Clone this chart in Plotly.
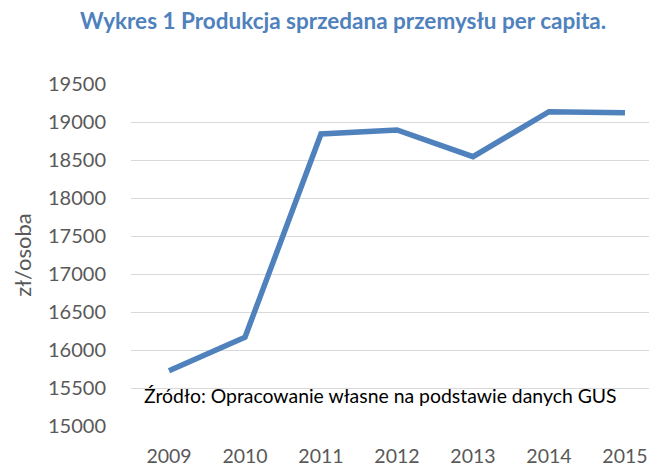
import plotly.graph_objects as go

years = ["2009", "2010", "2011", "2012", "2013", "2014", "2015"]
values = [15727, 16167, 18842, 18895, 18544, 19136, 19122]
y_ticks = [15000, 15500, 16000, 16500, 17000, 17500, 18000, 18500, 19000, 19500]

title_text = "Wykres 1 Produkcja sprzedana przemysłu per capita."
source_text = "Źródło: Opracowanie własne na podstawie danych GUS"
y_title = "zł/osoba"

FONT = "Lato, 'Open Sans', sans-serif"
BLUE = "#4F81BD"
GRAY = "#595959"

fig = go.Figure()
fig.add_trace(go.Scatter(
    x=years, y=values, mode="lines",
    line=dict(color=BLUE, width=5.5),
    showlegend=False, hoverinfo="x+y",
))

fig.update_layout(
    width=649, height=466,
    margin=dict(l=131, r=0, t=84, b=40, autoexpand=False),
    paper_bgcolor="white", plot_bgcolor="white",
    font=dict(family=FONT, color=GRAY),
    title=dict(
        text=title_text, x=343 / 649, xanchor="center",
        y=1 - 13 / 466, yref="container", yanchor="top",
        font=dict(family=FONT, size=22.5, color=BLUE, weight="bold"),
        automargin=False,
    ),
)

fig.update_xaxes(
    type="category", range=[-0.5, 6.316], automargin=False,
    showgrid=False, showline=False, zeroline=False,
    ticks="", ticklabelstandoff=16,
    tickfont=dict(family=FONT, size=19.5, color=GRAY),
)
fig.update_yaxes(
    range=[15000, 19500], tickvals=y_ticks, automargin=False,
    ticktext=[str(v) for v in y_ticks],
    showgrid=True, gridcolor="#D9D9D9", gridwidth=1.3,
    showline=False, zeroline=False,
    ticks="", ticklabelstandoff=24,
    tickfont=dict(family=FONT, size=20, color=GRAY),
    title=dict(text=y_title, standoff=10,
               font=dict(family=FONT, size=22, color=GRAY)),
)

fig.add_annotation(
    text=source_text, xref="paper", yref="paper",
    x=11 / 518, y=31 / 342, xanchor="left", yanchor="middle",
    showarrow=False,
    font=dict(family=FONT, size=19.4, color="#000000"),
)

fig.write_html(
    "out.html",
    config={"displayModeBar": False},
    post_script="document.body.style.margin='0';",
)
